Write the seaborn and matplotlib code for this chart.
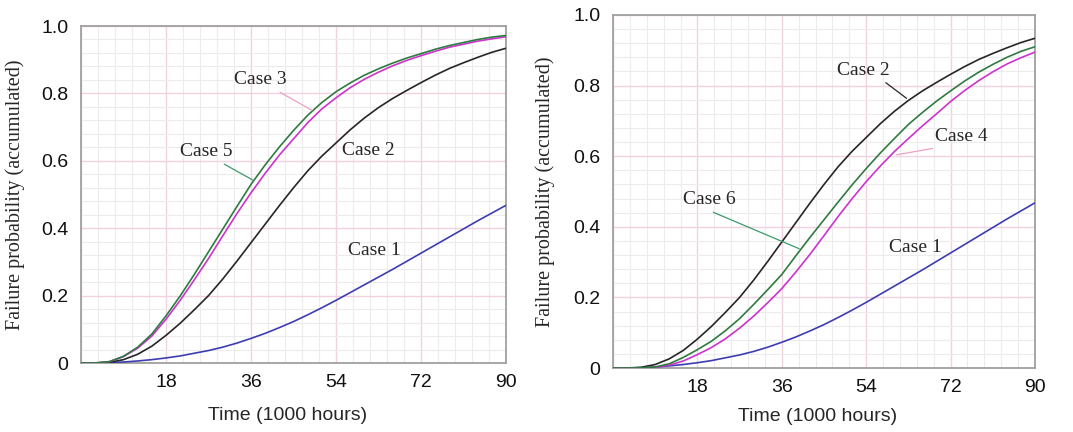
import seaborn as sns
import pandas as pd
import matplotlib.pyplot as plt
from matplotlib.ticker import MultipleLocator, FuncFormatter

# Data (time in 1000 hours)
time_k = [0, 3, 6, 9, 12, 15, 18, 21, 24, 27, 30, 33, 36, 39, 42, 45,
          48, 51, 54, 57, 60, 63, 66, 69, 72, 75, 78, 81, 84, 87, 90]

case1 = [0, 0.0001, 0.001, 0.003, 0.006, 0.01, 0.015, 0.021, 0.029, 0.037, 0.047, 0.059, 0.073, 0.088, 0.105, 0.123,
         0.143, 0.164, 0.186, 0.209, 0.232, 0.255, 0.278, 0.302, 0.326, 0.35, 0.374, 0.398, 0.422, 0.445, 0.468]
case2 = [0, 0.0001, 0.002, 0.01, 0.026, 0.05, 0.082, 0.118, 0.158, 0.2, 0.249, 0.302, 0.357, 0.412, 0.467, 0.52,
         0.57, 0.614, 0.653, 0.692, 0.727, 0.758, 0.785, 0.809, 0.832, 0.854, 0.874, 0.891, 0.907, 0.922, 0.934]
case3 = [0, 0.0002, 0.004, 0.019, 0.044, 0.08, 0.13, 0.186, 0.247, 0.31, 0.377, 0.443, 0.505, 0.563, 0.617, 0.665,
         0.713, 0.754, 0.787, 0.817, 0.842, 0.863, 0.882, 0.898, 0.912, 0.925, 0.937, 0.946, 0.955, 0.962, 0.968]
case4 = [0, 0, 0.0003, 0.002, 0.008, 0.02, 0.038, 0.058, 0.083, 0.113, 0.147, 0.185, 0.225, 0.272, 0.322, 0.375,
         0.429, 0.48, 0.528, 0.572, 0.613, 0.65, 0.686, 0.72, 0.755, 0.786, 0.814, 0.839, 0.861, 0.879, 0.895]
case5 = [0, 0.0002, 0.004, 0.02, 0.047, 0.086, 0.14, 0.199, 0.263, 0.33, 0.397, 0.464, 0.53, 0.588, 0.641, 0.69,
         0.735, 0.773, 0.805, 0.831, 0.854, 0.873, 0.89, 0.905, 0.918, 0.931, 0.942, 0.951, 0.96, 0.967, 0.972]
case6 = [0, 0, 0.0005, 0.003, 0.012, 0.03, 0.052, 0.076, 0.106, 0.14, 0.18, 0.222, 0.265, 0.318, 0.37, 0.42,
         0.47, 0.519, 0.565, 0.609, 0.65, 0.69, 0.724, 0.756, 0.785, 0.813, 0.838, 0.86, 0.88, 0.897, 0.91]

left_cases = {'Case 1': case1, 'Case 2': case2, 'Case 3': case3, 'Case 5': case5}
right_cases = {'Case 1': case1, 'Case 2': case2, 'Case 4': case4, 'Case 6': case6}

colors = {'Case 1': '#3d3db2', 'Case 2': '#262626', 'Case 3': '#cc33cc',
          'Case 4': '#cc33cc', 'Case 5': '#2f7a40', 'Case 6': '#2f7a40'}

# label, text position, leader end, leader colour, relpos
left_labels = [('Case 3', (37.9, 0.84), (48.9, 0.75), '#eaa2c6', (0.75, 0)),
               ('Case 5', (26.6, 0.627), (36.5, 0.542), '#3c9a6c', (0.7, 0)),
               ('Case 2', (60.8, 0.632), None, None, None),
               ('Case 1', (62.2, 0.335), None, None, None)]
right_labels = [('Case 2', (53.3, 0.844), (62.6, 0.764), '#262626', (0.83, 0)),
                ('Case 4', (74.3, 0.656), (60.5, 0.604), '#eaa2c6', (0.33, 0)),
                ('Case 6', (20.6, 0.476), (39.7, 0.338), '#3c9a6c', (0.4, 0)),
                ('Case 1', (64.4, 0.34), None, None, None)]

sns.set_style('white')
plt.rcParams['font.family'] = ['Liberation Sans', 'DejaVu Sans']
serif = ['Liberation Serif', 'DejaVu Serif']

fig = plt.figure(figsize=(10.73, 4.32), dpi=100)
ax1 = fig.add_axes([0.0755, 0.1597, 0.3961, 0.7801])
ax2 = fig.add_axes([0.5713, 0.1481, 0.3933, 0.8172])


def draw(ax, cases, labels, ylab_x, xlab_y):
    df = pd.DataFrame({'Time': time_k * len(cases),
                       'P': sum(cases.values(), []),
                       'Case': sum([[k] * len(time_k) for k in cases], [])})
    sns.lineplot(data=df, x='Time', y='P', hue='Case', palette=colors,
                 linewidth=1.2, legend=False, ax=ax, zorder=3)
    ax.set_xlim(0, 90)
    ax.set_ylim(0, 1.0)
    ax.xaxis.set_major_locator(MultipleLocator(18))
    ax.xaxis.set_minor_locator(MultipleLocator(3.6))
    ax.yaxis.set_major_locator(MultipleLocator(0.2))
    ax.yaxis.set_minor_locator(MultipleLocator(0.04))
    ax.xaxis.set_major_formatter(FuncFormatter(lambda v, _: '' if v == 0 else f'{v:.0f}'))
    ax.yaxis.set_major_formatter(FuncFormatter(lambda v, _: '0' if v == 0 else f'{v:.1f}'))
    ax.grid(which='minor', color='#ececec', linewidth=0.8)
    ax.grid(which='major', color='#f0d2e0', linewidth=1.0)
    ax.set_axisbelow(True)
    ax.tick_params(which='both', length=0, labelsize=14, colors='#111111')
    ax.tick_params(axis='y', pad=9)
    ax.tick_params(axis='x', pad=8)
    for s in ax.spines.values():
        s.set_color('#a0a0a0')
        s.set_linewidth(1.3)
    ax.set_xlabel('Time (1000 hours)', fontsize=14)
    ax.set_ylabel('Failure probability (accumulated)', fontsize=14.5, family=serif)
    ax.yaxis.set_label_coords(ylab_x, 0.5)
    ax.xaxis.set_label_coords(0.485, xlab_y)
    for name, txt, end, lc, rp in labels:
        if end is None:
            ax.text(txt[0], txt[1], name, ha='center', va='center', fontsize=14,
                    family=serif, zorder=4)
        else:
            ax.annotate(name, xy=end, xytext=txt, ha='center', va='center', fontsize=14,
                        family=serif, zorder=4,
                        arrowprops=dict(arrowstyle='-', color=lc, lw=0.9,
                                        relpos=rp, shrinkA=1, shrinkB=0))


draw(ax1, left_cases, left_labels, -0.132, -0.131)
draw(ax2, right_cases, right_labels, -0.137, -0.113)

fig.savefig('out.png', dpi=100)
